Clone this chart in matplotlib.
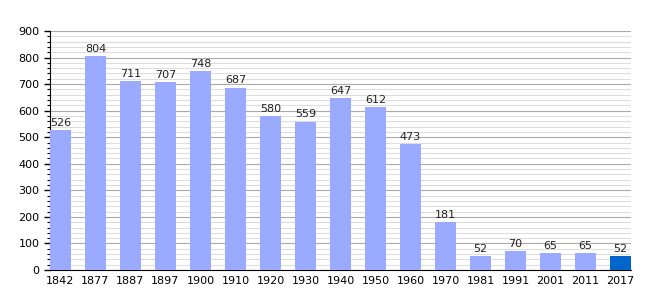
import numpy as np
import matplotlib.pyplot as plt
from matplotlib.ticker import MultipleLocator

years = ['1842', '1877', '1887', '1897', '1900', '1910', '1920', '1930', '1940',
         '1950', '1960', '1970', '1981', '1991', '2001', '2011', '2017']
population = [526, 804, 711, 707, 748, 687, 580, 559, 647, 612, 473, 181, 52, 70, 65, 65, 52]

colors = ['#99aaff'] * (len(years) - 1) + ['#0066cc']

fig = plt.figure(figsize=(6.6, 3.0), dpi=100)
ax = fig.add_axes([50 / 660, 30 / 300, 581 / 660, 239 / 300])

x = np.arange(len(years))
ax.bar(x, population, width=0.6, color=colors, zorder=3)

for xi, v in zip(x, population):
    ax.text(xi, v + 8, str(v), ha='center', va='bottom', fontsize=8, color='#222222', zorder=4)

ax.set_xlim(-0.3, len(years) - 0.7)
ax.set_ylim(0, 900)
ax.set_xticks(x)
ax.set_xticklabels(years, fontsize=8)
ax.yaxis.set_major_locator(MultipleLocator(100))
ax.yaxis.set_minor_locator(MultipleLocator(20))
ax.tick_params(axis='y', labelsize=8, length=4, width=1, direction='out')
ax.tick_params(axis='y', which='minor', length=2, width=0.8)
ax.tick_params(axis='x', length=0, pad=4)

ax.grid(axis='y', which='major', color='#aaaaaa', linewidth=0.8, zorder=0)
ax.grid(axis='y', which='minor', color='#dddddd', linewidth=0.8, zorder=0)
ax.set_axisbelow(True)

for s in ['top', 'right']:
    ax.spines[s].set_visible(False)
ax.spines['left'].set_color('black')
ax.spines['bottom'].set_color('black')

fig.savefig('out.png', dpi=100)
